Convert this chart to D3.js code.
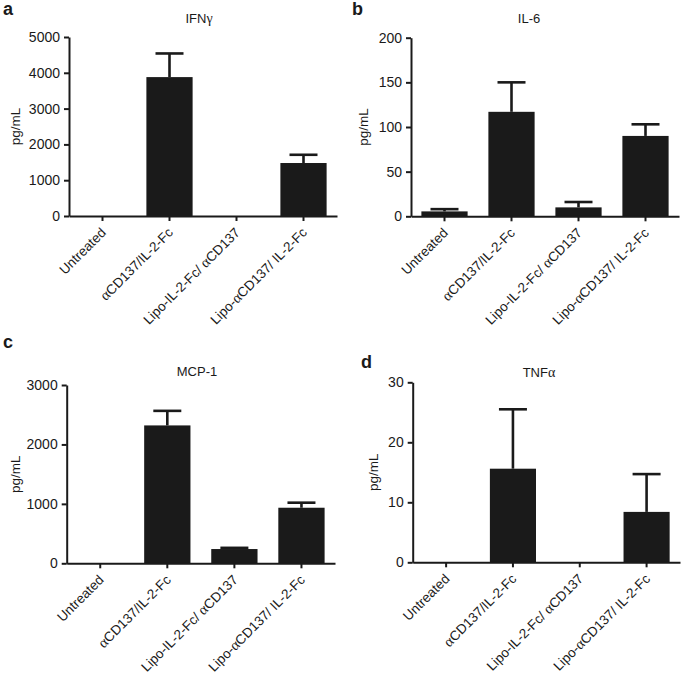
<!DOCTYPE html>
<html><head><meta charset="utf-8">
<script src="https://cdn.jsdelivr.net/npm/d3@7"></script>
<style>
body{margin:0;background:#fff;}
svg{display:block;}
text{font-family:"Liberation Sans",Arial,Helvetica,sans-serif;fill:#1a1a1a;}
</style></head><body>
<svg id="c" width="685" height="676"></svg>
<script>
const categories = ["Untreated","αCD137/IL-2-Fc","Lipo-IL-2-Fc/ αCD137","Lipo-αCD137/ IL-2-Fc"];
const panelLetters = ["a","b","c","d"];
const panelTitles = ["IFNγ","IL-6","MCP-1","TNFα"];
const ifngValues = [0, 3880, 0, 1480];
const ifngErrors = [0, 660, 0, 230];
const il6Values = [5.5, 117, 10, 90];
const il6Errors = [2.5, 33, 6, 13];
const mcp1Values = [0, 2320, 240, 935];
const mcp1Errors = [0, 245, 20, 85];
const tnfaValues = [0, 15.6, 0, 8.4];
const tnfaErrors = [0, 9.9, 0, 6.3];
const ifngTicks = [0,1000,2000,3000,4000,5000];
const il6Ticks = [0,50,100,150,200];
const mcp1Ticks = [0,1000,2000,3000];
const tnfaTicks = [0,10,20,30];
const yLabel = "pg/mL";

const panels = [
  {values: ifngValues, errors: ifngErrors, ticks: ifngTicks, x0: 69, x1: 337, y0: 216, y1: 37, ylx: 15, letter:[3,15], title:[199,23]},
  {values: il6Values, errors: il6Errors, ticks: il6Ticks, x0: 411, x1: 679, y0: 216.3, y1: 37.7, ylx: 363, letter:[352,15], title:[529,23]},
  {values: mcp1Values, errors: mcp1Errors, ticks: mcp1Ticks, x0: 66.7, x1: 335, y0: 563.3, y1: 385, ylx: 15, letter:[3,348], title:[197,376]},
  {values: tnfaValues, errors: tnfaErrors, ticks: tnfaTicks, x0: 412.7, x1: 680, y0: 562.3, y1: 382.3, ylx: 373, letter:[361,368], title:[539,377]}
];

const svg = d3.select("#c");
const ink = "#1a1a1a";

function greekText(sel, str){
  const parts = str.split(/([αγ])/).filter(s => s.length);
  parts.forEach(p => {
    const t = sel.append("tspan").text(p);
    if (p === "α" || p === "γ") t.style("font-family", "'Liberation Serif','Times New Roman',serif").style("font-size","1.08em");
  });
}

panels.forEach((p, i) => {
  const g = svg.append("g");
  const x = d3.scaleBand().domain(categories).range([p.x0, p.x1]).paddingInner(0.31).paddingOuter(0.155);
  const y = d3.scaleLinear().domain([0, d3.max(p.ticks)]).range([p.y0, p.y1]);

  g.selectAll("rect.bar").data(categories).join("rect")
    .attr("x", d => x(d)).attr("width", x.bandwidth())
    .attr("y", (d,j) => y(p.values[j]))
    .attr("height", (d,j) => y(0) - y(p.values[j]))
    .attr("fill", ink);

  const eb = categories.map((c,j) => ({c, v: p.values[j], e: p.errors[j]})).filter(d => d.e > 0);
  const capW = 28;
  g.selectAll("line.ev").data(eb).join("line")
    .attr("x1", d => x(d.c) + x.bandwidth()/2).attr("x2", d => x(d.c) + x.bandwidth()/2)
    .attr("y1", d => y(d.v)).attr("y2", d => y(d.v + d.e))
    .attr("stroke", ink).attr("stroke-width", 2.6);
  g.selectAll("line.cap").data(eb).join("line")
    .attr("x1", d => x(d.c) + x.bandwidth()/2 - capW/2).attr("x2", d => x(d.c) + x.bandwidth()/2 + capW/2)
    .attr("y1", d => y(d.v + d.e)).attr("y2", d => y(d.v + d.e))
    .attr("stroke", ink).attr("stroke-width", 2.6);

  const ya = g.append("g").attr("transform", `translate(${p.x0},0)`)
    .call(d3.axisLeft(y).tickValues(p.ticks).tickFormat(d3.format("d")).tickSize(5).tickPadding(4).tickSizeOuter(0));
  ya.select(".domain").attr("stroke", ink).attr("stroke-width", 2);
  ya.selectAll(".tick line").attr("stroke", ink).attr("stroke-width", 2);
  ya.selectAll(".tick text").style("font-size", "14px").attr("fill", ink)
    .style("font-family", "'Liberation Sans',Arial,sans-serif");

  const xa = g.append("g").attr("transform", `translate(0,${p.y0})`)
    .call(d3.axisBottom(x).tickSize(5).tickSizeOuter(0));
  xa.select(".domain").attr("stroke", ink).attr("stroke-width", 2);
  xa.selectAll(".tick line").attr("stroke", ink).attr("stroke-width", 2);
  xa.selectAll(".tick text").remove();
  xa.selectAll(".tick").append("text")
    .attr("transform", "translate(1,14) rotate(-45)")
    .attr("text-anchor", "end").attr("dy", "0.35em")
    .style("font-size", "13.5px").attr("fill", ink)
    .style("font-family", "'Liberation Sans',Arial,sans-serif")
    .each(function(d){ greekText(d3.select(this), d); });

  g.append("text")
    .attr("transform", `translate(${p.ylx},${(p.y0 + p.y1)/2}) rotate(-90)`)
    .attr("text-anchor", "middle").attr("dy", "0.35em")
    .style("font-size", "13.5px").text(yLabel);

  const t = g.append("text").attr("x", p.title[0]).attr("y", p.title[1])
    .attr("text-anchor", "middle").style("font-size", "13px");
  greekText(t, panelTitles[i]);

  g.append("text").attr("x", p.letter[0]).attr("y", p.letter[1])
    .style("font-size", "18px").style("font-weight", "bold").text(panelLetters[i]);
});
</script>
</body></html>
